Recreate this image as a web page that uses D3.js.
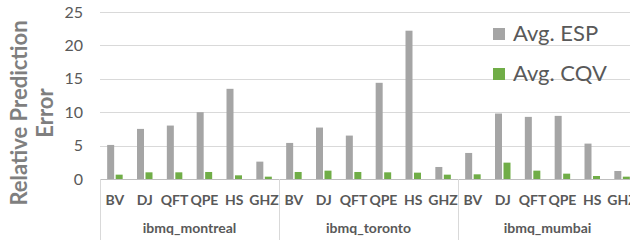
<!DOCTYPE html>
<html lang="en">
<head>
<meta charset="UTF-8">
<title>Relative Prediction Error</title>
<script src="https://cdn.jsdelivr.net/npm/d3@7"></script>
<style>
  body { margin: 0; background: #fff; }
  svg { display: block; font-family: Lato, "Open Sans", sans-serif; }
</style>
</head>
<body>
<svg width="630" height="240"></svg>
<script>
// data
var machines = ['ibmq_montreal', 'ibmq_toronto', 'ibmq_mumbai'];
var circuits = ['BV', 'DJ', 'QFT', 'QPE', 'HS', 'GHZ'];
var espValues = [5.1, 7.5, 8.0, 10.0, 13.5, 2.6,
                 5.4, 7.7, 6.5, 14.4, 22.2, 1.8,
                 3.9, 9.8, 9.3, 9.45, 5.3, 1.2];
var cqvValues = [0.65, 1.0, 1.0, 1.05, 0.55, 0.35,
                 1.05, 1.25, 1.05, 1.0, 0.95, 0.65,
                 0.7, 2.45, 1.25, 0.8, 0.45, 0.35];
var yTicks = [0, 5, 10, 15, 20, 25];
var seriesNames = ['Avg. ESP', 'Avg. CQV'];
var colors = ['#a5a5a5', '#70ad47'];

var svg = d3.select('svg');
var plotLeft = 100, plotRight = 637, plotTop = 12, plotBottom = 179;

// one slot per (machine, circuit)
var slots = [];
machines.forEach(function (m, mi) {
    circuits.forEach(function (c, ci) {
        slots.push({ machine: m, circuit: c, i: mi * circuits.length + ci });
    });
});

var x = d3.scaleBand().domain(d3.range(slots.length)).range([plotLeft, plotRight]);
var y = d3.scaleLinear().domain([0, 25]).range([plotBottom, plotTop]);
var barW = 7, barGap = 1.5;

// gridlines
svg.append('g').selectAll('line').data(yTicks.slice(1)).enter().append('line')
    .attr('x1', plotLeft).attr('x2', plotRight)
    .attr('y1', function (d) { return Math.round(y(d)) + 0.5; })
    .attr('y2', function (d) { return Math.round(y(d)) + 0.5; })
    .attr('stroke', '#d9d9d9').attr('stroke-width', 1);

// y tick labels
svg.append('g').selectAll('text').data(yTicks).enter().append('text')
    .attr('x', 83).attr('y', function (d) { return y(d); })
    .attr('dy', '0.35em')
    .attr('text-anchor', 'end')
    .attr('font-size', 16).attr('fill', '#595959')
    .text(function (d) { return d; });

// y title
var yt = svg.append('text')
    .attr('transform', 'translate(33,113) rotate(-90)')
    .attr('text-anchor', 'middle')
    .attr('font-size', 22).attr('font-weight', 'bold').attr('fill', '#7f7f7f');
yt.append('tspan').attr('x', 0).attr('y', -6).text('Relative Prediction');
yt.append('tspan').attr('x', 0).attr('y', 20).text('Error');

// bars
var cx = function (i) { return x(i) + x.bandwidth() / 2; };
svg.append('g').selectAll('rect').data(espValues).enter().append('rect')
    .attr('x', function (d, i) { return cx(i) - barW - barGap / 2; })
    .attr('y', function (d) { return y(d); })
    .attr('width', barW)
    .attr('height', function (d) { return plotBottom - y(d); })
    .attr('fill', colors[0]);
svg.append('g').selectAll('rect').data(cqvValues).enter().append('rect')
    .attr('x', function (d, i) { return cx(i) + barGap / 2; })
    .attr('y', function (d) { return y(d); })
    .attr('width', barW)
    .attr('height', function (d) { return plotBottom - y(d); })
    .attr('fill', colors[1]);

// axis line and group separators
svg.append('line').attr('x1', plotLeft).attr('x2', plotRight)
    .attr('y1', plotBottom + 0.5).attr('y2', plotBottom + 0.5)
    .attr('stroke', '#bfbfbf');
var groupW = x.step() * circuits.length;
svg.append('g').selectAll('line').data(d3.range(machines.length + 1)).enter().append('line')
    .attr('x1', function (d) { return Math.round(plotLeft + d * groupW) + 0.5; })
    .attr('x2', function (d) { return Math.round(plotLeft + d * groupW) + 0.5; })
    .attr('y1', plotBottom).attr('y2', 240)
    .attr('stroke', '#d9d9d9');

// circuit labels
svg.append('g').selectAll('text').data(slots).enter().append('text')
    .attr('x', function (d) { return cx(d.i); }).attr('y', 205)
    .attr('text-anchor', 'middle')
    .attr('font-size', 14).attr('font-weight', 'bold').attr('fill', '#595959')
    .text(function (d) { return d.circuit; });

// machine labels
svg.append('g').selectAll('text').data(machines).enter().append('text')
    .attr('x', function (d, i) { return plotLeft + (i + 0.5) * groupW; }).attr('y', 233)
    .attr('text-anchor', 'middle')
    .attr('font-size', 14).attr('font-weight', 'bold').attr('fill', '#595959')
    .text(function (d) { return d; });

// legend
var lg = svg.append('g').selectAll('g').data(seriesNames).enter().append('g')
    .attr('transform', function (d, i) { return 'translate(493,' + (28 + i * 40) + ')'; });
lg.append('rect').attr('width', 12).attr('height', 12)
    .attr('fill', function (d, i) { return colors[i]; });
lg.append('text').attr('x', 20).attr('y', 13)
    .attr('font-size', 22).attr('fill', '#595959')
    .text(function (d) { return d; });
</script>
</body>
</html>
